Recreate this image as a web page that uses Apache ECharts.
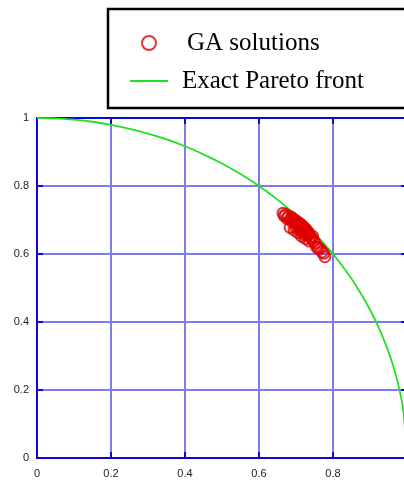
<!DOCTYPE html>
<html>
<head>
<meta charset="utf-8">
<script src="https://cdn.jsdelivr.net/npm/echarts@6/dist/echarts.min.js"></script>
<style>
  html, body { margin: 0; padding: 0; background: #fff; }
  #chart { width: 404px; height: 481px; }
</style>
</head>
<body>
<div id="chart"></div>
<script>
// Axis ticks
const xTicks = [0, 0.2, 0.4, 0.6, 0.8, 1];
const yTicks = [0, 0.2, 0.4, 0.6, 0.8, 1];

// GA solutions (f1, f2)
const gaF1 = [0.665, 0.668, 0.672, 0.676, 0.680, 0.684, 0.688, 0.690, 0.694, 0.697,
              0.700, 0.702, 0.705, 0.707, 0.710, 0.712, 0.714, 0.716, 0.718, 0.720,
              0.722, 0.724, 0.726, 0.728, 0.730, 0.733, 0.735, 0.738, 0.742, 0.745,
              0.748, 0.752, 0.756, 0.760, 0.765, 0.770, 0.775, 0.778,
              0.684, 0.695, 0.706, 0.716, 0.726, 0.736, 0.700, 0.712, 0.722];
const gaF2 = [0.720, 0.712, 0.716, 0.705, 0.712, 0.700, 0.708, 0.695, 0.702, 0.690,
              0.698, 0.685, 0.693, 0.680, 0.690, 0.676, 0.686, 0.672, 0.682, 0.668,
              0.678, 0.664, 0.673, 0.660, 0.668, 0.655, 0.662, 0.650, 0.645, 0.652,
              0.638, 0.632, 0.620, 0.618, 0.615, 0.606, 0.602, 0.592,
              0.678, 0.670, 0.662, 0.652, 0.645, 0.638, 0.676, 0.668, 0.658];

// Exact Pareto front (f1, f2)
const frontF1 = [0, 0.05, 0.1, 0.15, 0.2, 0.25, 0.3, 0.35, 0.4, 0.45, 0.5, 0.55, 0.6, 0.65,
                 0.7, 0.75, 0.8, 0.85, 0.88, 0.9, 0.92, 0.94, 0.95, 0.96, 0.97, 0.98, 0.99, 1.0];
const frontF2 = [1, 0.999, 0.995, 0.989, 0.980, 0.968, 0.954, 0.937, 0.917, 0.893, 0.866, 0.835, 0.800, 0.760,
                 0.714, 0.661, 0.600, 0.527, 0.475, 0.436, 0.392, 0.341, 0.312, 0.280, 0.243, 0.199, 0.141, 0];

const axisBlue = '#0a0ad6';
const gridBlue = '#7c7cf0';
const fmt = v => {
  const i = xTicks.findIndex(t => Math.abs(t - v) < 1e-9);
  return i < 0 ? '' : String(xTicks[i]);
};
const fmtY = v => {
  const i = yTicks.findIndex(t => Math.abs(t - v) < 1e-9);
  return i < 0 ? '' : String(yTicks[i]);
};

const chart = echarts.init(document.getElementById('chart'), null, { renderer: 'canvas' });

const baseAxis = {
  type: 'value', min: 0, max: 1, interval: 0.2,
  axisLine: { show: true, onZero: false, lineStyle: { color: axisBlue, width: 2 } },
  axisTick: { show: true, inside: true, length: 6, lineStyle: { color: axisBlue, width: 2 } },
  splitLine: { show: false }
};

chart.setOption({
  animation: false,
  backgroundColor: '#fff',
  grid: { left: 37, top: 118, width: 370, height: 340, containLabel: false, outerBoundsMode: 'none' },
  legend: {
    orient: 'vertical',
    left: 108, top: 9,
    padding: [19, 70, 12, 21],
    itemGap: 8,
    itemWidth: 38, itemHeight: 14,
    borderColor: '#000', borderWidth: 2.5,
    backgroundColor: '#fff',
    textStyle: { fontFamily: 'Liberation Serif', fontSize: 25, color: '#000', lineHeight: 30 },
    data: [
      { name: 'GA solutions', textStyle: { padding: [0, 0, 0, 14] } },
      // plain line key: hide the marker drawn on top of the line sample
      { name: 'Exact Pareto front', itemStyle: { opacity: 0 }, textStyle: { padding: [0, 0, 0, 9] } }
    ]
  },
  xAxis: [
    Object.assign({}, baseAxis, {
      position: 'bottom',
      axisLabel: { formatter: fmt, margin: 10, fontFamily: 'Liberation Sans', fontSize: 11, color: '#222' },
      splitLine: { show: true, lineStyle: { color: gridBlue, width: 2 } }
    }),
    Object.assign({}, baseAxis, { position: 'top', axisLabel: { show: false } })
  ],
  yAxis: [
    Object.assign({}, baseAxis, {
      position: 'left',
      axisLabel: { formatter: fmtY, margin: 8, fontFamily: 'Liberation Sans', fontSize: 11, color: '#222' },
      splitLine: { show: true, lineStyle: { color: gridBlue, width: 2 } }
    }),
    Object.assign({}, baseAxis, { position: 'right', axisLabel: { show: false } })
  ],
  series: [
    {
      name: 'GA solutions',
      type: 'scatter',
      symbol: 'circle',
      symbolSize: 11,
      itemStyle: { color: 'rgba(255,255,255,0)', borderColor: '#e00000', borderWidth: 2 },
      data: gaF1.map((v, i) => [v, gaF2[i]]),
      z: 3
    },
    {
      name: 'Exact Pareto front',
      type: 'line',
      smooth: 0.3,
      symbol: 'none',
      lineStyle: { color: '#22e022', width: 1.8 },
      itemStyle: { color: '#22e022' },
      data: frontF1.map((v, i) => [v, frontF2[i]]),
      z: 2
    }
  ]
});
</script>
</body>
</html>
